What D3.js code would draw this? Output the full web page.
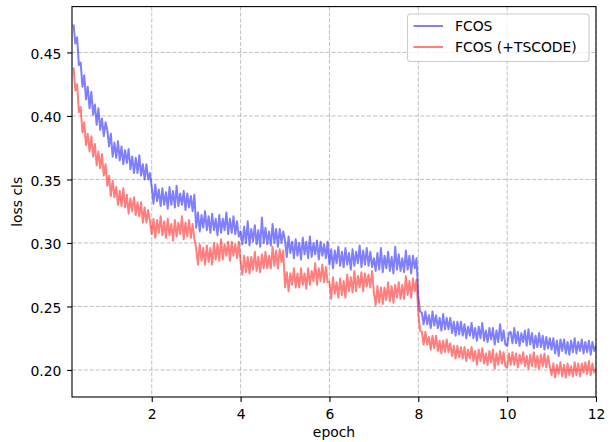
<!DOCTYPE html>
<html>
<head>
<meta charset="utf-8">
<script src="https://cdn.jsdelivr.net/npm/d3@7"></script>
<style>
	html, body { margin: 0; padding: 0; background: #fff; }
	svg { display: block; font-family: 'DejaVu Sans', sans-serif; }
</style>
</head>
<body>
<div id="chart"></div>
<script>
// logged loss, one value every 0.04 epoch starting at epoch 0.24
const firstEpoch = 0.24
const stepEpoch = 0.04

const seriesNames = ['FCOS', 'FCOS (+TSCODE)']

// FCOS
const lossFcos = [
	.472, .457, .462, .440, .442, .423, .432, .413, .423, .406, .419, .401, .409, .393, .406, .389, .398, .384, .395,
	.389, .376, .386, .368, .379, .367, .380, .365, .376, .362, .373, .363, .374, .358, .368, .355, .367, .355, .369, .353, .362, .350, .362, .350, .355,
	.344, .331, .346, .333, .342, .329, .343, .330, .340, .327, .344, .330, .341, .328, .345, .329, .339, .330, .341, .326, .339, .328, .337, .325, .338,
	.312, .324, .309, .322, .312, .325, .310, .321, .308, .323, .310, .319, .306, .322, .308, .319, .310, .324, .307, .319, .308, .321, .307, .317, .305,
	.309, .299, .313, .300, .317, .298, .311, .301, .314, .299, .310, .297, .320, .300, .312, .299, .309, .298, .315, .300, .311, .297, .311, .300, .309,
	.302, .289, .305, .292, .301, .288, .303, .290, .300, .287, .304, .291, .301, .288, .305, .289, .300, .291, .302, .287, .301, .290, .299, .288, .301,
	.283, .295, .280, .294, .284, .297, .282, .293, .281, .296, .283, .292, .279, .295, .282, .293, .284, .298, .281, .294, .283, .296, .282, .293, .281,
	.288, .278, .292, .279, .296, .277, .290, .280, .293, .278, .289, .276, .297, .279, .291, .278, .288, .277, .294, .279, .290, .276, .290, .280, .288,
	.258, .246, .245, .236, .246, .236, .243, .233, .246, .235, .243, .233, .241, .231, .244, .232, .241, .232, .241, .229, .238, .227, .238, .228, .238,
	.227, .236, .225, .234, .227, .237, .225, .233, .223, .234, .225, .237, .223, .231, .222, .233, .224, .233, .220, .231, .222, .236, .223, .231, .220,
	.219, .229, .230, .221, .233, .221, .230, .219, .229, .222, .231, .219, .232, .220, .229, .217, .227, .218, .229, .218, .227, .216, .226, .217, .225,
	.216, .225, .213, .223, .211, .224, .215, .224, .213, .222, .212, .223, .214, .225, .213, .222, .215, .224, .213, .222, .214, .223, .212, .222, .215,
	.219,
]

// FCOS (+TSCODE)
const lossTscode = [
	.438, .420, .425, .403, .407, .387, .395, .377, .386, .372, .384, .368, .378, .361, .372, .359, .370, .353, .362,
	.345, .353, .337, .349, .336, .344, .330, .341, .329, .343, .328, .338, .323, .335, .325, .336, .322, .332, .321, .332, .316, .328, .316, .326, .317,
	.307, .319, .304, .318, .308, .321, .306, .317, .304, .319, .306, .315, .302, .318, .305, .316, .307, .321, .303, .316, .305, .318, .304, .315, .303,
	.296, .283, .299, .286, .296, .283, .298, .285, .296, .283, .300, .287, .299, .286, .303, .287, .299, .290, .301, .286, .301, .290, .299, .288, .301,
	.285, .275, .290, .277, .289, .276, .289, .279, .293, .278, .289, .277, .291, .280, .293, .280, .290, .280, .297, .282, .294, .280, .295, .285, .294,
	.265, .277, .262, .276, .267, .280, .265, .276, .265, .280, .267, .276, .264, .280, .267, .278, .270, .284, .267, .280, .270, .283, .269, .281, .269,
	.269, .256, .273, .260, .269, .257, .272, .259, .270, .257, .275, .262, .273, .261, .278, .262, .274, .265, .277, .262, .276, .266, .275, .265, .278,
	.261, .251, .266, .253, .265, .252, .265, .255, .269, .254, .266, .253, .267, .257, .269, .256, .267, .256, .274, .259, .270, .257, .272, .262, .271,
	.245, .231, .230, .220, .230, .220, .226, .216, .227, .217, .227, .215, .223, .213, .223, .214, .224, .214, .221, .211, .219, .209, .219, .210, .218,
	.209, .218, .207, .216, .209, .218, .207, .215, .204, .216, .207, .217, .205, .213, .204, .215, .206, .216, .201, .213, .204, .215, .205, .214, .203,
	.202, .213, .204, .214, .204, .213, .202, .212, .205, .214, .203, .211, .201, .212, .203, .214, .202, .211, .201, .212, .203, .213, .202, .211, .203,
	.196, .205, .194, .204, .197, .206, .195, .204, .194, .205, .196, .203, .195, .206, .196, .205, .195, .205, .198, .206, .197, .207, .196, .205, .198,
	.201,
]

const xTicks = [2, 4, 6, 8, 10, 12]
const yTicks = [0.20, 0.25, 0.30, 0.35, 0.40, 0.45]
const colors = ['#0000ff', '#ff0000']

//size of the page and the axes box
const width = 613
const height = 442
const margin = { left: 72, top: 6.6, right: 17, bottom: 45 }
const fontSize = 13.9
const lineW = 2

const x = d3.scaleLinear().domain([0.205, 12]).range([margin.left, width - margin.right])
const y = d3.scaleLinear().domain([0.1787, 0.4861]).range([height - margin.bottom, margin.top])

const svg = d3
	.select('#chart')
	.append('svg')
	.attr('width', width)
	.attr('height', height)
	.attr('viewBox', [0, 0, width, height])

const plotW = x.range()[1] - x.range()[0]
const plotH = y.range()[0] - y.range()[1]

svg.append('rect').attr('width', width).attr('height', height).attr('fill', '#fff')

// grid
const grid = svg.append('g').attr('stroke', '#b0b0b0').attr('stroke-width', 0.8).attr('stroke-dasharray', '4.1,1.8')
grid.selectAll('.gx')
	.data(xTicks)
	.join('line')
	.attr('x1', d => x(d))
	.attr('x2', d => x(d))
	.attr('y1', y.range()[1])
	.attr('y2', y.range()[0])
grid.selectAll('.gy')
	.data(yTicks)
	.join('line')
	.attr('y1', d => y(d))
	.attr('y2', d => y(d))
	.attr('x1', x.range()[0])
	.attr('x2', x.range()[1])

svg.append('clipPath').attr('id', 'plotClip')
	.append('rect')
	.attr('x', x.range()[0])
	.attr('y', y.range()[1])
	.attr('width', plotW)
	.attr('height', plotH)

const line = d3
	.line()
	.x((d, i) => x(firstEpoch + i * stepEpoch))
	.y(d => y(d))

svg.append('g')
	.attr('clip-path', 'url(#plotClip)')
	.selectAll('path')
	.data([lossFcos, lossTscode])
	.join('path')
	.attr('d', d => line(d))
	.attr('fill', 'none')
	.attr('stroke', (d, i) => colors[i])
	.attr('stroke-opacity', 0.5)
	.attr('stroke-width', lineW)
	.attr('stroke-linejoin', 'round')

// axes
const xAxis = svg.append('g')
	.attr('transform', `translate(0,${y.range()[0]})`)
	.call(d3.axisBottom(x).tickValues(xTicks).tickFormat(d3.format('d')).tickSize(4.9).tickPadding(4.9))
xAxis.selectAll('text').attr('dy', null).attr('y', 22)

const yAxis = svg.append('g')
	.attr('transform', `translate(${x.range()[0]},0)`)
	.call(d3.axisLeft(y).tickValues(yTicks).tickFormat(d3.format('.2f')).tickSize(4.9).tickPadding(4.9))
yAxis.selectAll('text').attr('dy', '0.4em').attr('x', -10.6)

svg.selectAll('.domain').remove()
svg.selectAll('.tick line').attr('stroke', '#000').attr('stroke-width', 1.1)
svg.selectAll('.tick text')
	.attr('fill', '#000')
	.attr('font-family', 'DejaVu Sans')
	.attr('font-size', fontSize)

// spines
svg.append('rect')
	.attr('x', x.range()[0])
	.attr('y', y.range()[1])
	.attr('width', plotW)
	.attr('height', plotH)
	.attr('fill', 'none')
	.attr('stroke', '#000')
	.attr('stroke-width', 1.1)

svg.append('text')
	.attr('x', (x.range()[0] + x.range()[1]) / 2)
	.attr('y', 437)
	.attr('text-anchor', 'middle')
	.attr('font-size', fontSize)
	.text('epoch')

svg.append('text')
	.attr('transform', `translate(21.5,${(y.range()[0] + y.range()[1]) / 2}) rotate(-90)`)
	.attr('text-anchor', 'middle')
	.attr('font-size', fontSize)
	.text('loss cls')

// legend
const legend = svg.append('g').attr('transform', 'translate(407.5,14)')
legend.append('rect')
	.attr('width', 181.5)
	.attr('height', 47.5)
	.attr('rx', 2.8)
	.attr('fill', '#fff')
	.attr('fill-opacity', 0.8)
	.attr('stroke', '#cccccc')
	.attr('stroke-width', 1.1)

const item = legend.selectAll('.item')
	.data(seriesNames)
	.join('g')
	.attr('transform', (d, i) => `translate(0,${12 + i * 21})`)
item.append('line')
	.attr('x1', 6)
	.attr('x2', 35.5)
	.attr('stroke', (d, i) => colors[i])
	.attr('stroke-opacity', 0.5)
	.attr('stroke-width', lineW)
item.append('text')
	.attr('x', 47.5)
	.attr('y', 5)
	.attr('font-size', fontSize)
	.text(d => d)
</script>
</body>
</html>
